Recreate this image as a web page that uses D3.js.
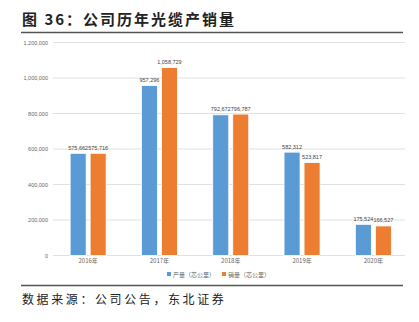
<!DOCTYPE html>
<html>
<head>
<meta charset="utf-8">
<script src="https://cdn.jsdelivr.net/npm/d3@7/dist/d3.min.js"></script>
<style>
  html, body { margin: 0; padding: 0; background: #fff; }
  svg { display: block; }
</style>
</head>
<body>
<svg id="chart" width="419" height="322"></svg>
<script>
// Annual fibre-optic cable output and sales (core-km)
const categories = ["2016年", "2017年", "2018年", "2019年", "2020年"];
const production = [575662, 957296, 792672, 582312, 175524];
const sales = [575716, 1058729, 796787, 523817, 166527];
const seriesNames = ["产量（芯公里）", "销量（芯公里）"];
const seriesColors = ["#5b9bd5", "#ed7d31"];
const yTicks = [0, 200000, 400000, 600000, 800000, 1000000, 1200000];

const svg = d3.select("#chart");
const cjk = "'Noto Sans CJK SC', 'Noto Sans', sans-serif";

// Header
svg.append("text")
  .attr("x", 22).attr("y", 25)
  .attr("font-family", cjk).attr("font-weight", "bold")
  .attr("font-size", 15).attr("fill", "#222")
  .attr("letter-spacing", 2)
  .text("图 36：公司历年光缆产销量");
svg.append("line")
  .attr("x1", 21).attr("x2", 403).attr("y1", 32.5).attr("y2", 32.5)
  .attr("stroke", "#555").attr("stroke-width", 1.5);

// Footer
svg.append("line")
  .attr("x1", 21).attr("x2", 403).attr("y1", 285.5).attr("y2", 285.5)
  .attr("stroke", "#555").attr("stroke-width", 1.5);
svg.append("text")
  .attr("x", 22).attr("y", 304)
  .attr("font-family", cjk).attr("font-size", 12).attr("fill", "#222")
  .attr("letter-spacing", 2.6)
  .text("数据来源：公司公告，东北证券");

// Plot area
const x0 = d3.scaleBand().domain(categories).range([52.5, 409]).paddingInner(0).paddingOuter(0);
const y = d3.scaleLinear().domain([0, 1200000]).range([255.5, 42.5]);
const fmt = d3.format(",");

// Gridlines
svg.append("g").selectAll("line").data(yTicks).join("line")
  .attr("x1", 53).attr("x2", 405)
  .attr("y1", d => y(d)).attr("y2", d => y(d))
  .attr("stroke", "#d9d9d9").attr("stroke-width", 0.8);

// Y axis labels
const yAxis = d3.axisLeft(y).tickValues(yTicks).tickSize(0).tickPadding(0).tickFormat(fmt);
const gy = svg.append("g").attr("transform", "translate(48,0)").call(yAxis);
gy.select(".domain").remove();
gy.selectAll("text").attr("font-family", "'Liberation Sans', Arial, sans-serif")
  .attr("font-size", 5.5).attr("fill", "#666");

// X axis labels
const xAxis = d3.axisBottom(x0).tickSize(0).tickPadding(0);
const gx = svg.append("g").attr("transform", "translate(0,259)").call(xAxis);
gx.select(".domain").remove();
gx.selectAll("text").attr("font-family", cjk).attr("font-size", 6).attr("fill", "#666");

// Bars
const barW = 16, gap = 4;
const series = [production, sales];
series.forEach((vals, si) => {
  const g = svg.append("g");
  const xs = c => x0(c) + x0.bandwidth() / 2 + (si === 0 ? -gap / 2 - barW : gap / 2);
  g.selectAll("rect").data(categories).join("rect")
    .attr("x", c => xs(c))
    .attr("width", barW)
    .attr("y", (c, i) => y(vals[i]))
    .attr("height", (c, i) => y(0) - y(vals[i]))
    .attr("fill", seriesColors[si])
    .attr("stroke", "#fff").attr("stroke-width", 0.8);
  g.selectAll("text").data(categories).join("text")
    .attr("x", c => xs(c) + barW / 2)
    .attr("y", (c, i) => y(vals[i]) - 3.5)
    .attr("text-anchor", "middle")
    .attr("font-family", "'Liberation Sans', Arial, sans-serif")
    .attr("font-size", 5.5).attr("fill", "#444")
    .text((c, i) => fmt(vals[i]));
});

// Legend
const legend = svg.append("g").attr("transform", "translate(167,276)");
const legX = [0, 55];
seriesNames.forEach((name, i) => {
  legend.append("rect").attr("x", legX[i]).attr("y", -4)
    .attr("width", 4).attr("height", 4).attr("fill", seriesColors[i]);
  legend.append("text").attr("x", legX[i] + 6).attr("y", 0.5)
    .attr("font-family", cjk).attr("font-size", 6).attr("fill", "#666")
    .text(name);
});
</script>
</body>
</html>
